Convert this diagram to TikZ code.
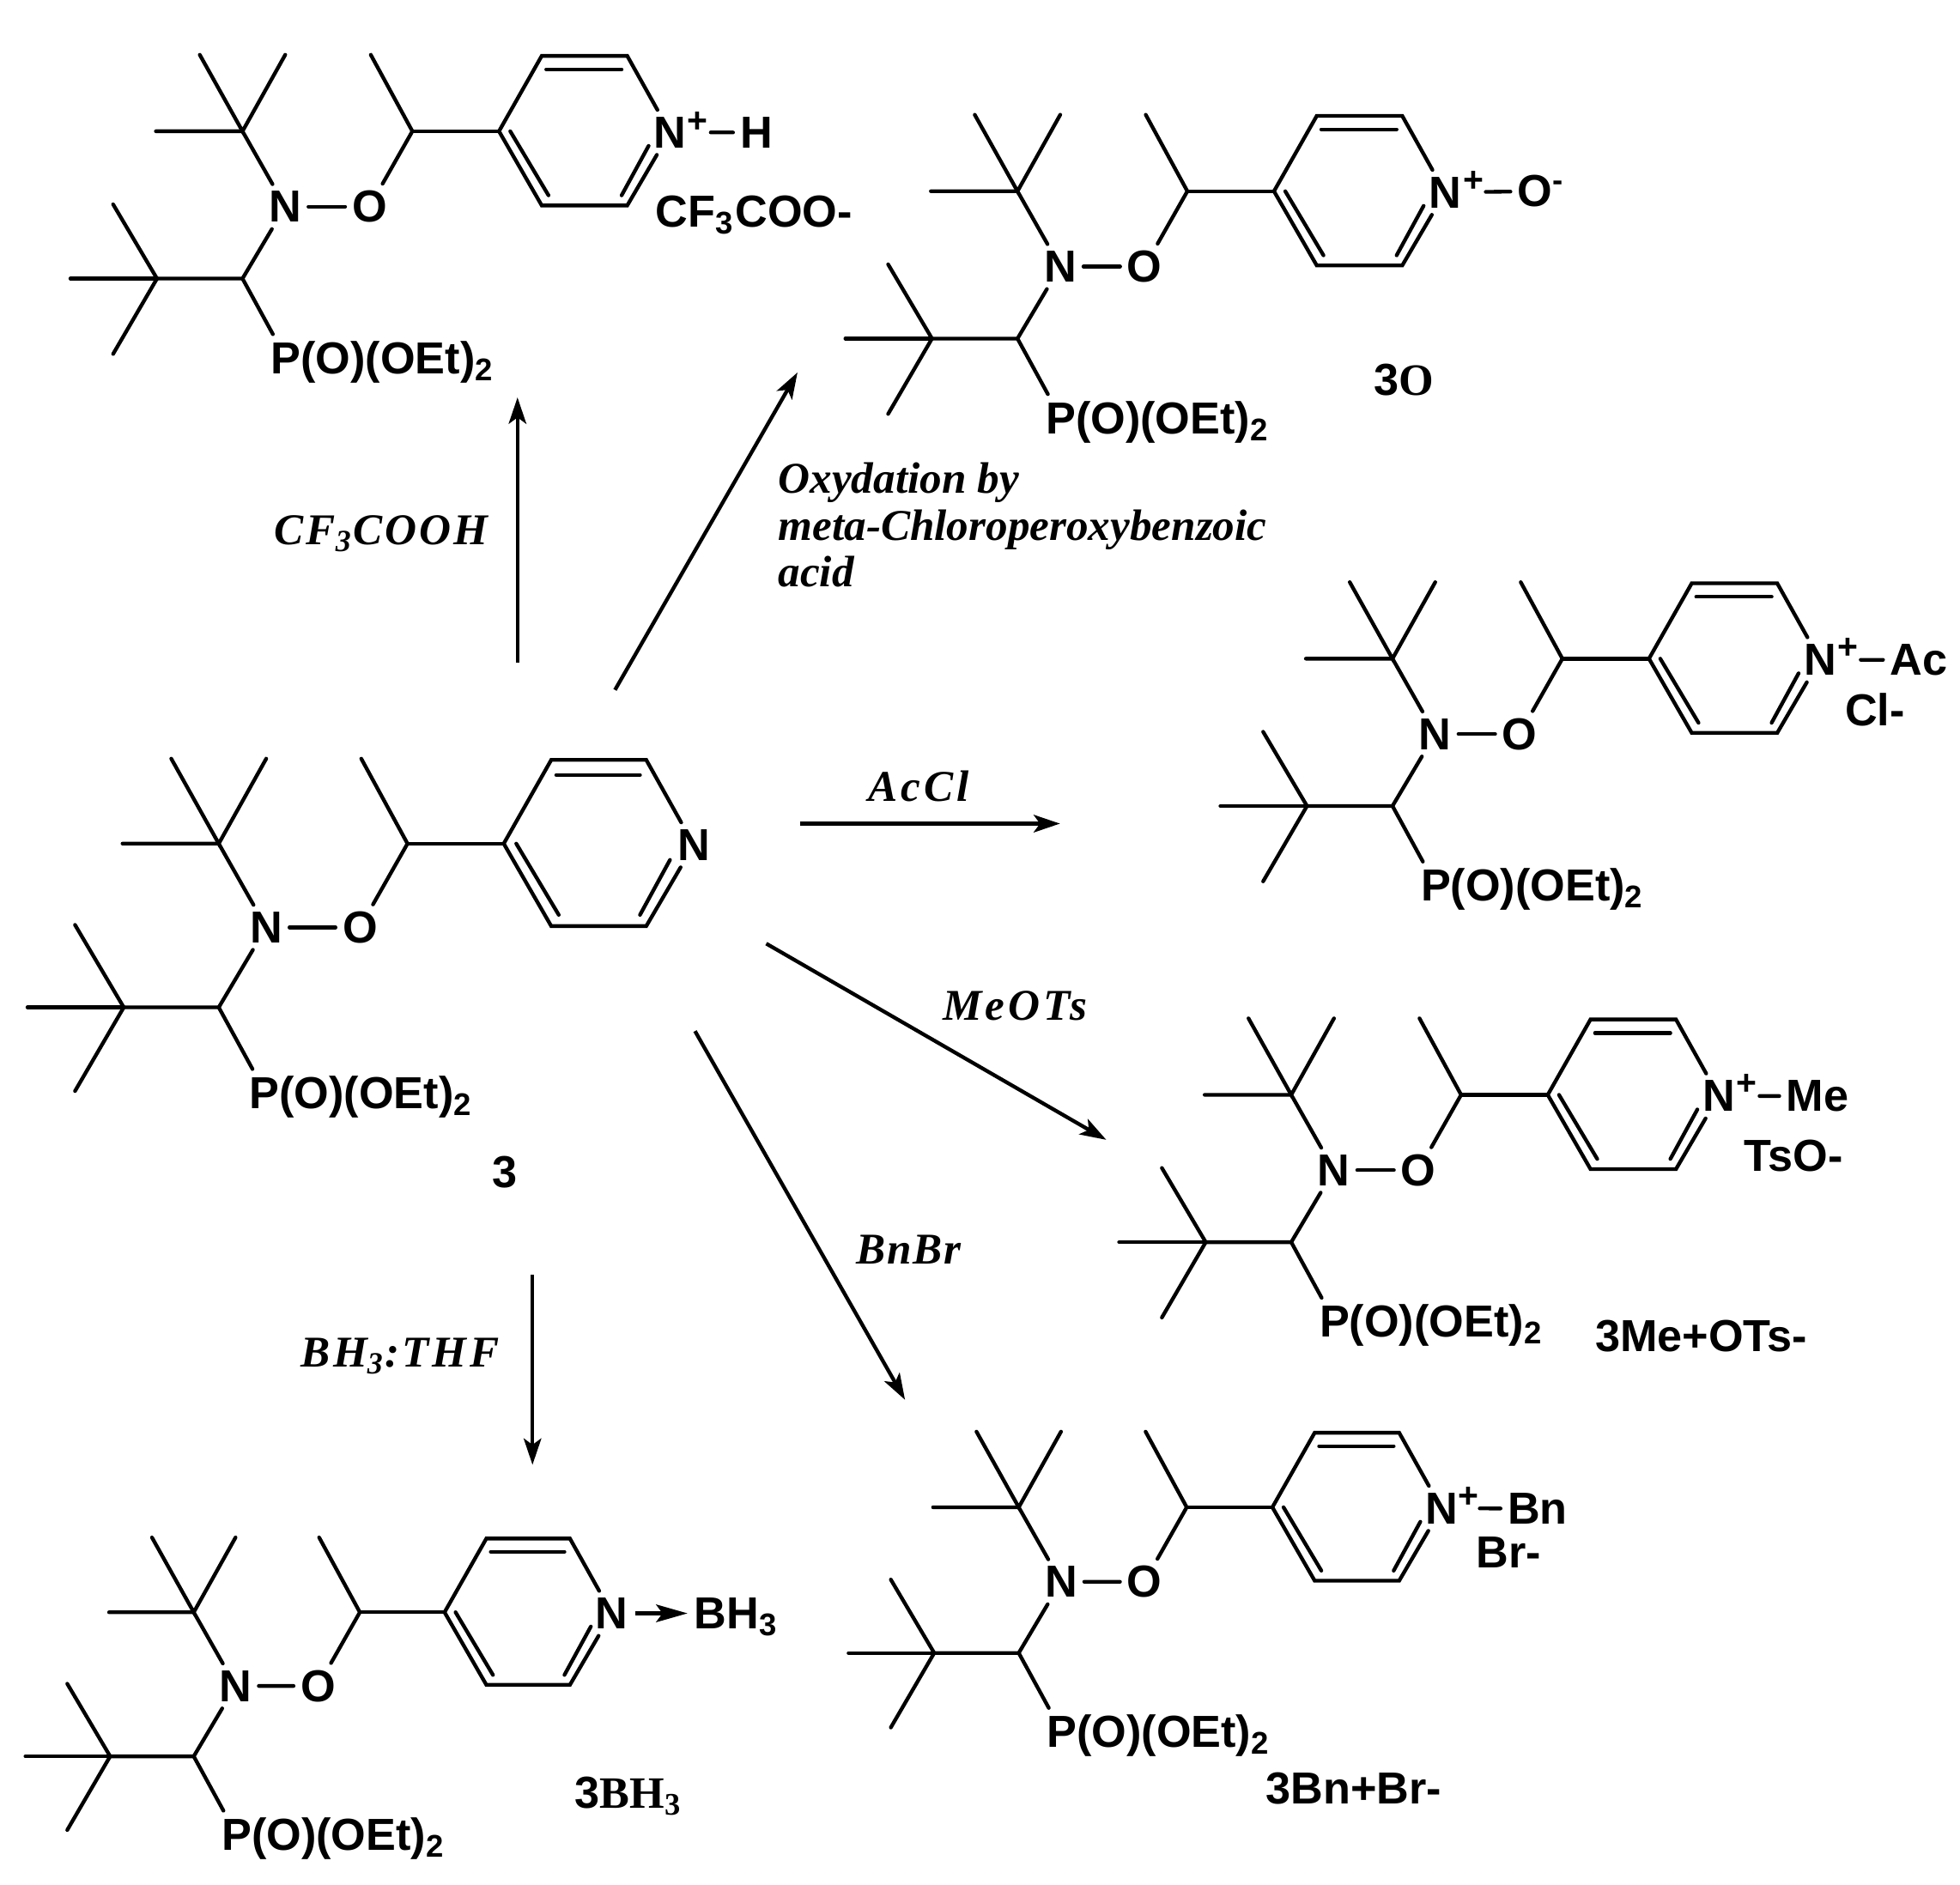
\documentclass[tikz,border=0pt]{standalone}
\usepackage{fontspec}
\setmainfont{Liberation Serif}
\setsansfont{Liberation Sans}
\usetikzlibrary{arrows.meta}

\begin{document}
\begin{tikzpicture}[x=0.01cm, y=-0.01cm,
    bond/.style={line width=0.85pt, line cap=round},
    rxn/.style={line width=0.85pt, -{Stealth[length=0.21cm,width=0.14cm,inset=0.05cm]}},
    atom/.style={inner sep=1.4pt, font=\sffamily\bfseries\fontsize{10.2}{12}\selectfont},
    cpd/.style={inner sep=0pt, font=\bfseries\fontsize{10.2}{12}\selectfont},
    cond/.style={inner sep=0pt, font=\bfseries\itshape\fontsize{10}{10.6}\selectfont}]
  \newcommand{\PyrMol}[4]{%
    \begin{scope}[shift={(#2,#3)}, scale=#4]
      \coordinate (#1Ca) at (0,0);
      \coordinate (#1Ma) at (-38,-68);
      \coordinate (#1Mb) at (38,-68);
      \coordinate (#1Mc) at (-77,0);
      \node[atom] (#1Nx) at (38,67) {N};
      \node[atom] (#1Ox) at (113,67) {O};
      \coordinate (#1Ch) at (151,0);
      \coordinate (#1Md) at (114,-68);
      \coordinate (#1Ra) at (228,0);
      \coordinate (#1Rb) at (266,-67);
      \coordinate (#1Rc) at (342,-67);
      \node[atom] (#1N) at (380,1) {N};
      \coordinate (#1Rd) at (342,66);
      \coordinate (#1Re) at (266,66);
      \coordinate (#1Cb) at (0,131);
      \coordinate (#1Cc) at (-76,131);
      \coordinate (#1Me) at (-115,65);
      \coordinate (#1Mf) at (-153,131);
      \coordinate (#1Mg) at (-115,198);
      \node[atom, anchor=base west] (#1P) at (19,{180+32/#4}) {P(O)(OEt)\textsubscript{2}};
      \draw[bond] (#1Ma) -- (#1Ca) -- (#1Mb);
      \draw[bond] (#1Mc) -- (#1Ca) -- (#1Nx);
      \draw[bond] (#1Nx) -- (#1Ox);
      \draw[bond] (#1Ox) -- (#1Ch) -- (#1Md);
      \draw[bond] (#1Ch) -- (#1Ra);
      \draw[bond] (#1Ra) -- (#1Rb) -- (#1Rc) -- (#1N);
      \draw[bond] (#1N) -- (#1Rd) -- (#1Re) -- (#1Ra);
      \draw[bond] (#1Nx) -- (#1Cb) -- (#1Cc);
      \draw[bond] (#1Cb) -- ([xshift=0.08cm]#1P.north west);
      \draw[bond] (#1Me) -- (#1Cc) -- (#1Mg);
      \draw[bond] (#1Mf) -- (#1Cc);
      \draw[bond] (270,-55) -- (337,-55);
      \draw[bond] (238,0) -- (272,57);
      \draw[bond] (361,13) -- (337,57);
    \end{scope}}
  \useasboundingbox (0,0) rectangle (1568,1508);

  \PyrMol{py}{175}{675}{1}
  \PyrMol{th}{194}{105}{0.9}
  \PyrMol{ox}{814}{153}{0.9}
  \PyrMol{ac}{1114}{527}{0.9}
  \PyrMol{me}{1033}{876}{0.9}
  \PyrMol{bn}{815}{1206}{0.89}
  \PyrMol{bh}{155}{1290}{0.88}

  \node[atom] (thPlus) at (558,98) {\fontsize{8}{8}\selectfont +};
  \node[atom] (thH) at (605,106) {H};
  \draw[bond, shorten <=0.14cm] (thN) -- (thH);
  \node[atom, anchor=west] (thAn) at (519,172) {CF\textsubscript{3}COO-};

  \node[atom] (oxPlus) at (1179,145) {\fontsize{8}{8}\selectfont +};
  \node[atom] (oxO) at (1233,153) {O\textsuperscript{-}};
  \draw[bond, shorten <=0.14cm] (oxN) -- (oxO);

  \node[atom] (acPlus) at (1478,519) {\fontsize{8}{8}\selectfont +};
  \node[atom] (acAc) at (1535,528) {Ac};
  \draw[bond, shorten <=0.14cm] (acN) -- (acAc);
  \node[atom] (acAn) at (1500,568) {Cl-};

  \node[atom] (mePlus) at (1397,868) {\fontsize{8}{8}\selectfont +};
  \node[atom] (meMe) at (1454,877) {Me};
  \draw[bond, shorten <=0.14cm] (meN) -- (meMe);
  \node[atom] (meAn) at (1435,925) {TsO-};

  \node[atom] (bnPlus) at (1175,1198) {\fontsize{8}{8}\selectfont +};
  \node[atom] (bnBn) at (1230,1207) {Bn};
  \draw[bond, shorten <=0.12cm] (bnN) -- (bnBn);
  \node[atom] (bnAn) at (1207,1242) {Br-};

  \node[atom, anchor=west] (bhB) at (550,1294) {BH\textsubscript{3}};
  \draw[bond, -{Stealth[length=0.25cm,width=0.14cm,inset=0.05cm]}, line cap=butt] (bhN) -- (bhN -| bhB.west);

  \node[cpd] (pyLab) at (404,938) {\sffamily 3};
  \node[cpd] (oxLab) at (1123,304) {{\sffamily 3}O};
  \node[cpd] (bhLab) at (503,1437) {{\sffamily 3}BH\textsubscript{3}};
  \node[cpd] (meLab) at (1361,1069) {\sffamily 3Me+OTs-};
  \node[cpd] (bnLab) at (1083,1431) {\sffamily 3Bn+Br-};

  \coordinate (a1) at (414,530);
  \coordinate (a2) at (414,318);
  \draw[rxn] (a1) -- (a2);
  \coordinate (b1) at (492,552);
  \coordinate (b2) at (638,298);
  \draw[rxn] (b1) -- (b2);
  \coordinate (c1) at (640,659);
  \coordinate (c2) at (848,659);
  \draw[rxn] (c1) -- (c2);
  \coordinate (d1) at (613,755);
  \coordinate (d2) at (885,912);
  \draw[rxn] (d1) -- (d2);
  \coordinate (e1) at (556,825);
  \coordinate (e2) at (724,1120);
  \draw[rxn] (e1) -- (e2);
  \coordinate (f1) at (426,1020);
  \coordinate (f2) at (426,1172);
  \draw[rxn] (f1) -- (f2);

  \node[cond] (cfCond) at (305,427) {\addfontfeature{LetterSpace=6}CF\textsubscript{3}COOH};
  \node[cond, anchor=west, align=left] (oxCond) at (622,420) {Oxydation by\\meta-Chloroperoxybenzoic\\acid};
  \node[cond] (acCond) at (735,629) {\addfontfeature{LetterSpace=8}AcCl};
  \node[cond] (meCond) at (812,805) {\addfontfeature{LetterSpace=8}MeOTs};
  \node[cond] (bnCond) at (727,1000) {\addfontfeature{LetterSpace=4}BnBr};
  \node[cond] (bhCond) at (320,1085) {\addfontfeature{LetterSpace=7}BH\textsubscript{3}:THF};

\end{tikzpicture}
\end{document}
